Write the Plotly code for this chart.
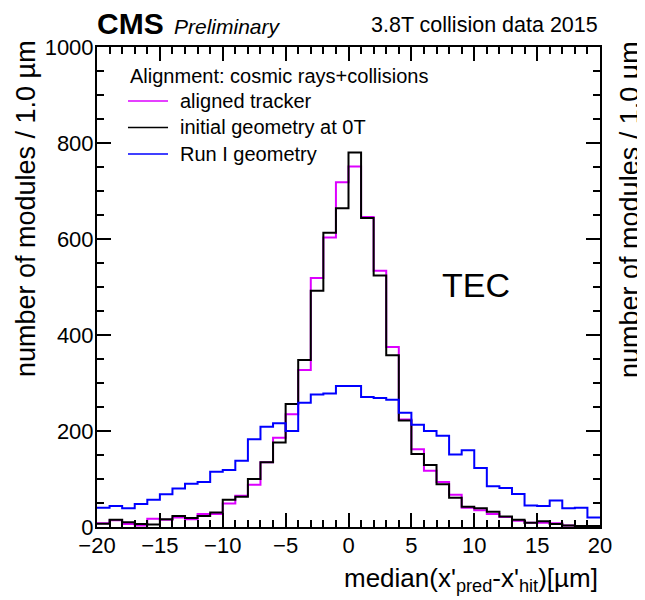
import numpy as np
import plotly.graph_objects as go

# ---- data (1 um bins from -20 to 20 um) ----
bin_edges = list(range(-20, 21))
aligned_tracker = [8, 14, 6, 3, 17, 15, 20, 16, 27, 27,
                   49, 65, 88, 135, 186, 235, 327, 519, 603, 718,
                   751, 646, 534, 375, 224, 162, 117, 94, 67, 40,
                   35, 27, 21, 13, 9, 9, 8, 3, 1, 1]
initial_geometry_0T = [7, 15, 10, 6, 5, 16, 23, 19, 23, 30,
                       57, 63, 100, 135, 176, 256, 348, 492, 613, 664,
                       780, 644, 524, 358, 222, 152, 129, 89, 61, 42,
                       39, 32, 22, 15, 9, 12, 6, 3, 2, 2]
run1_geometry = [40, 44, 39, 48, 57, 68, 80, 90, 94, 115,
                 119, 138, 183, 209, 216, 200, 259, 276, 278, 294,
                 294, 271, 269, 265, 238, 213, 200, 190, 151, 160,
                 123, 85, 81, 69, 45, 44, 55, 39, 40, 20]

x_tick_vals = [-20, -15, -10, -5, 0, 5, 10, 15, 20]
x_tick_text = ["\u221220", "\u221215", "\u221210", "\u22125", "0", "5", "10", "15", "20"]
y_tick_vals = [0, 200, 400, 600, 800, 1000]
y_tick_text = ["0", "200", "400", "600", "800", "1000"]

legend_title = "Alignment: cosmic rays+collisions"
series = [
    ("aligned tracker", aligned_tracker, "#dd00ff"),
    ("initial geometry at 0T", initial_geometry_0T, "#000000"),
    ("Run I geometry", run1_geometry, "#0000ff"),
]

FONT = "Liberation Sans, Arial, Helvetica, sans-serif"

fig = go.Figure()
for name, vals, col in series:
    fig.add_trace(go.Scatter(
        x=bin_edges, y=list(vals) + [vals[-1]],
        mode="lines", line=dict(shape="hv", color=col, width=2),
        name=name, showlegend=False,
    ))

axis_common = dict(
    showline=True, linewidth=2, linecolor="black", mirror="allticks",
    ticks="inside", ticklen=14, tickwidth=1.5, tickcolor="black",
    showgrid=False, zeroline=False,
    tickfont=dict(family=FONT, size=22, color="black"),
)

# manual legend (paper coordinates)
leg_x0, leg_x1, leg_tx = 0.0616, 0.1412, 0.161
leg_title_y = 0.9396
leg_rows_y = [0.8875, 0.8323, 0.7771]

shapes = []
annotations = [
    dict(text=legend_title, xref="paper", yref="paper", x=leg_x0, y=leg_title_y,
         xanchor="left", yanchor="middle", showarrow=False,
         font=dict(family=FONT, size=20, color="black")),
]
for (name, vals, col), yy in zip(series, leg_rows_y):
    shapes.append(dict(type="line", xref="paper", yref="paper",
                       x0=leg_x0, x1=leg_x1, y0=yy, y1=yy,
                       line=dict(color=col, width=1.5)))
    annotations.append(dict(text=name, xref="paper", yref="paper", x=leg_tx, y=yy,
                            xanchor="left", yanchor="middle", showarrow=False,
                            font=dict(family=FONT, size=20, color="black")))

annotations += [
    dict(text="<b>CMS</b>", xref="paper", yref="paper", x=-0.004, y=1,
         xanchor="left", yanchor="bottom", yshift=5, showarrow=False,
         font=dict(family=FONT, size=30, color="black")),
    dict(text="<i>Preliminary</i>", xref="paper", yref="paper", x=0.150, y=1,
         xanchor="left", yanchor="bottom", yshift=7, showarrow=False,
         font=dict(family=FONT, size=21, color="black")),
    dict(text="3.8T collision data 2015", xref="paper", yref="paper", x=1, y=1,
         xanchor="right", yanchor="bottom", yshift=8, showarrow=False,
         font=dict(family=FONT, size=21.5, color="black")),
    dict(text="TEC", xref="paper", yref="paper", x=0.7535, y=0.504,
         xanchor="center", yanchor="middle", showarrow=False,
         font=dict(family=FONT, size=34, color="black")),
    dict(text="number of modules / 1.0 \u00b5m", xref="paper", yref="paper",
         x=-0.141, y=0.6625, xanchor="center", yanchor="middle", textangle=-90,
         showarrow=False, font=dict(family=FONT, size=27, color="black")),
    dict(text="number of modules / 1.0 \u00b5m", xref="paper", yref="paper",
         x=1.0596, y=0.6625, xanchor="center", yanchor="middle", textangle=-90,
         showarrow=False, font=dict(family=FONT, size=27, color="black")),
    dict(text="median(x'<sub>pred</sub>-x'<sub>hit</sub>)[\u00b5m]",
         xref="paper", yref="paper", x=1, y=0, xanchor="right", yanchor="top",
         yshift=-34, showarrow=False,
         font=dict(family=FONT, size=26, color="black")),
]

# page body has an 8px default margin: size the figure to the remaining viewport
fig.update_layout(
    width=637, height=592,
    margin=dict(l=89, r=45, t=39, b=73),
    paper_bgcolor="white", plot_bgcolor="white",
    font=dict(family=FONT, color="black"),
    xaxis=dict(range=[-20, 20], tickvals=x_tick_vals, ticktext=x_tick_text,
               minor=dict(dtick=1, ticklen=7, ticks="inside", tickwidth=1.5, tickcolor="black"),
               ticklabelstandoff=-2, **axis_common),
    yaxis=dict(range=[0, 1000], tickvals=y_tick_vals, ticktext=y_tick_text,
               minor=dict(dtick=50, ticklen=7, ticks="inside", tickwidth=1.5, tickcolor="black"),
               ticklabelstandoff=-3, **axis_common),
    showlegend=False,
    shapes=shapes,
    annotations=annotations,
)

fig.write_html("out.html")
